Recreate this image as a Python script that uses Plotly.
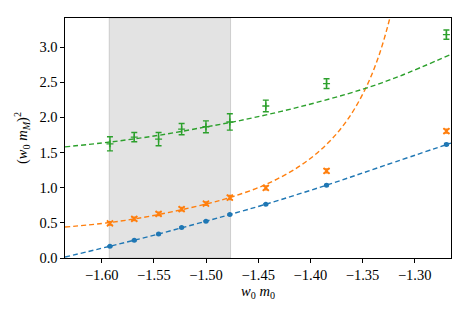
import plotly.graph_objects as go

# measured points
x_pts = [-1.5921, -1.5688, -1.5455, -1.5234, -1.5001, -1.4772, -1.4427, -1.3845, -1.2696]
blue_y = [0.167, 0.252, 0.342, 0.433, 0.523, 0.618, 0.765, 1.036, 1.615]
blue_err = [0.01, 0.01, 0.01, 0.01, 0.01, 0.01, 0.01, 0.01, 0.015]
orange_y = [0.494, 0.556, 0.627, 0.694, 0.775, 0.860, 0.997, 1.239, 1.805]
orange_err = [0.025, 0.025, 0.025, 0.025, 0.025, 0.03, 0.03, 0.03, 0.03]
green_y = [1.624, 1.719, 1.691, 1.833, 1.866, 1.935, 2.163, 2.481, 3.177]
green_err = [0.10, 0.066, 0.095, 0.08, 0.085, 0.116, 0.083, 0.069, 0.066]

# fit curves
blue_fit_x = [-1.6352, -1.5921, -1.5455, -1.5001, -1.4772, -1.4427, -1.3845, -1.33, -1.2652]
blue_fit_y = [0.014, 0.167, 0.342, 0.523, 0.618, 0.765, 1.036, 1.31, 1.635]
orange_fit_x = [-1.6352, -1.5921, -1.55, -1.50, -1.4772, -1.4427, -1.41, -1.3845, -1.365,
                -1.3478, -1.335, -1.3239, -1.315]
orange_fit_y = [0.44, 0.505, 0.605, 0.768, 0.860, 1.046, 1.31, 1.615, 1.955,
                2.39, 2.85, 3.41, 4.04]
green_fit_x = [-1.6352, -1.592, -1.5455, -1.50, -1.4676, -1.41, -1.35, -1.3143, -1.2652]
green_fit_y = [1.581, 1.650, 1.745, 1.865, 1.955, 2.151, 2.40, 2.588, 2.897]

band = [-1.5928, -1.4765]

xticks = [-1.60, -1.55, -1.50, -1.45, -1.40, -1.35, -1.30]
yticks = [0.0, 0.5, 1.0, 1.5, 2.0, 2.5, 3.0]

C_BLUE, C_ORANGE, C_GREEN = "#1f77b4", "#ff7f0e", "#2ca02c"
FONT = "Liberation Serif"
FS = 14.5

fig = go.Figure()

fig.add_shape(type="rect", xref="x", yref="y domain", x0=band[0], x1=band[1], y0=0, y1=1,
              fillcolor="rgba(128,128,128,0.22)", line=dict(color="rgba(128,128,128,0.3)", width=1),
              layer="below")

def fit(xs, ys, c):
    fig.add_trace(go.Scatter(x=xs, y=ys, mode="lines", line=dict(color=c, width=1.4, dash="5px,3px"),
                             line_shape="spline", showlegend=False, hoverinfo="skip"))

fit(blue_fit_x, blue_fit_y, C_BLUE)
fit(orange_fit_x, orange_fit_y, C_ORANGE)
fit(green_fit_x, green_fit_y, C_GREEN)

fig.add_trace(go.Scatter(x=x_pts, y=blue_y, mode="markers",
                         marker=dict(color=C_BLUE, size=5, symbol="circle"),
                         error_y=dict(type="data", array=blue_err, color=C_BLUE, thickness=1.2, width=2.5),
                         showlegend=False))
fig.add_trace(go.Scatter(x=x_pts, y=orange_y, mode="markers",
                         marker=dict(color=C_ORANGE, size=6, symbol="x-thin", line=dict(color=C_ORANGE, width=1.8)),
                         error_y=dict(type="data", array=orange_err, color=C_ORANGE, thickness=1.2, width=3),
                         showlegend=False))
fig.add_trace(go.Scatter(x=x_pts, y=green_y, mode="markers",
                         marker=dict(color=C_GREEN, size=5, symbol="cross-thin", line=dict(color=C_GREEN, width=1.4)),
                         error_y=dict(type="data", array=green_err, color=C_GREEN, thickness=1.4, width=3),
                         showlegend=False))

axis_common = dict(showline=True, linecolor="black", linewidth=1.2, mirror=True,
                   ticks="outside", ticklen=3.5, tickwidth=1, tickcolor="black",
                   showgrid=False, zeroline=False,
                   tickfont=dict(family=FONT, size=FS, color="black"))

fig.update_xaxes(range=[-1.6352, -1.2652], tickvals=xticks, tickformat=".2f",
                 title=dict(text="<i>w</i><sub>0</sub> <i>m</i><sub>0</sub>",
                            font=dict(family=FONT, size=FS, color="black"), standoff=0),
                 **axis_common)
fig.update_yaxes(range=[0, 3.414], tickvals=yticks, tickformat=".1f",
                 title=dict(text="(<i>w</i><sub>0</sub> <i>m<sub>M</sub></i>)<sup>2</sup>",
                            font=dict(family=FONT, size=FS, color="black"), standoff=8),
                 **axis_common)

# the page body adds an 8px offset, compensate in the margins
fig.update_layout(width=470, height=313, margin=dict(l=57, r=27, t=10, b=63),
                  font=dict(family=FONT, size=FS, color="black"),
                  plot_bgcolor="white", paper_bgcolor="white", showlegend=False)

fig.write_html("out.html")
